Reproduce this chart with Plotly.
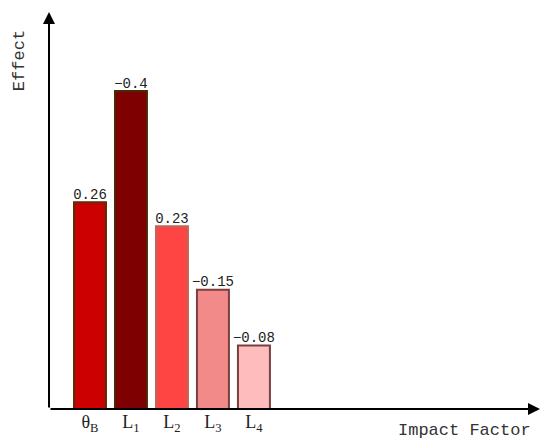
import plotly.graph_objects as go

categories = ["θ<sub>B</sub>", "L<sub>1</sub>", "L<sub>2</sub>", "L<sub>3</sub>", "L<sub>4</sub>"]
values = [0.26, 0.40, 0.23, 0.15, 0.08]
labels = ["0.26", "−0.4", "0.23", "−0.15", "−0.08"]
fill_colors = ["#cc0000", "#7f0000", "#ff4444", "#f28a8a", "#ffbcbc"]
line_colors = ["#5a2e06", "#4a2a06", "#b86a58", "#7a3f3f", "#7a3f3f"]

FONT = "Liberation Mono, DejaVu Sans Mono, monospace"
xs = list(range(len(categories)))

fig = go.Figure()
fig.add_trace(go.Bar(
    x=xs,
    y=values,
    width=0.78,
    marker=dict(color=fill_colors, line=dict(color=line_colors, width=2)),
    hoverinfo="skip",
))
fig.add_trace(go.Scatter(
    x=xs,
    y=values,
    mode="text",
    text=labels,
    textposition="top center",
    cliponaxis=False,
    textfont=dict(family=FONT, size=14, color="#222222"),
    hoverinfo="skip",
))

fig.update_layout(
    width=550, height=445,
    margin=dict(l=49, r=10, t=12, b=36, autoexpand=False),
    plot_bgcolor="white", paper_bgcolor="white",
    showlegend=False,
    font=dict(family=FONT, size=16, color="#222222"),
    xaxis=dict(
        range=[-1, 10.98],
        tickmode="array",
        tickvals=xs,
        ticktext=categories,
        showgrid=False, zeroline=False, showline=False,
        ticks="", automargin=False,
        tickfont=dict(family="Liberation Serif, DejaVu Serif, serif", size=18, color="#222222"),
    ),
    yaxis=dict(
        range=[0, 0.4994],
        showgrid=False, zeroline=False, showline=False,
        showticklabels=False, ticks="", automargin=False,
    ),
    annotations=[
        dict(xref="x domain", yref="y domain", axref="x domain", ayref="y domain",
             x=1, y=0, ax=0, ay=0, showarrow=True, arrowhead=2, arrowsize=1.2,
             arrowwidth=2, arrowcolor="black", text=""),
        dict(xref="x domain", yref="y domain", axref="x domain", ayref="y domain",
             x=0, y=1, ax=0, ay=0, showarrow=True, arrowhead=2, arrowsize=1.2,
             arrowwidth=2, arrowcolor="black", text=""),
        dict(xref="paper", yref="paper", x=-0.083, y=0.96, text="Effect", textangle=-90,
             showarrow=False, font=dict(family=FONT, size=17, color="#333333")),
        dict(xref="paper", yref="paper", x=0.986, y=-0.053, xanchor="right", yanchor="middle",
             text="Impact Factor", showarrow=False,
             font=dict(family=FONT, size=17, color="#333333")),
    ],
)

fig.write_html(
    "out.html",
    config={"displayModeBar": False},
    post_script="document.body.style.margin='0';document.body.style.padding='0';",
)
